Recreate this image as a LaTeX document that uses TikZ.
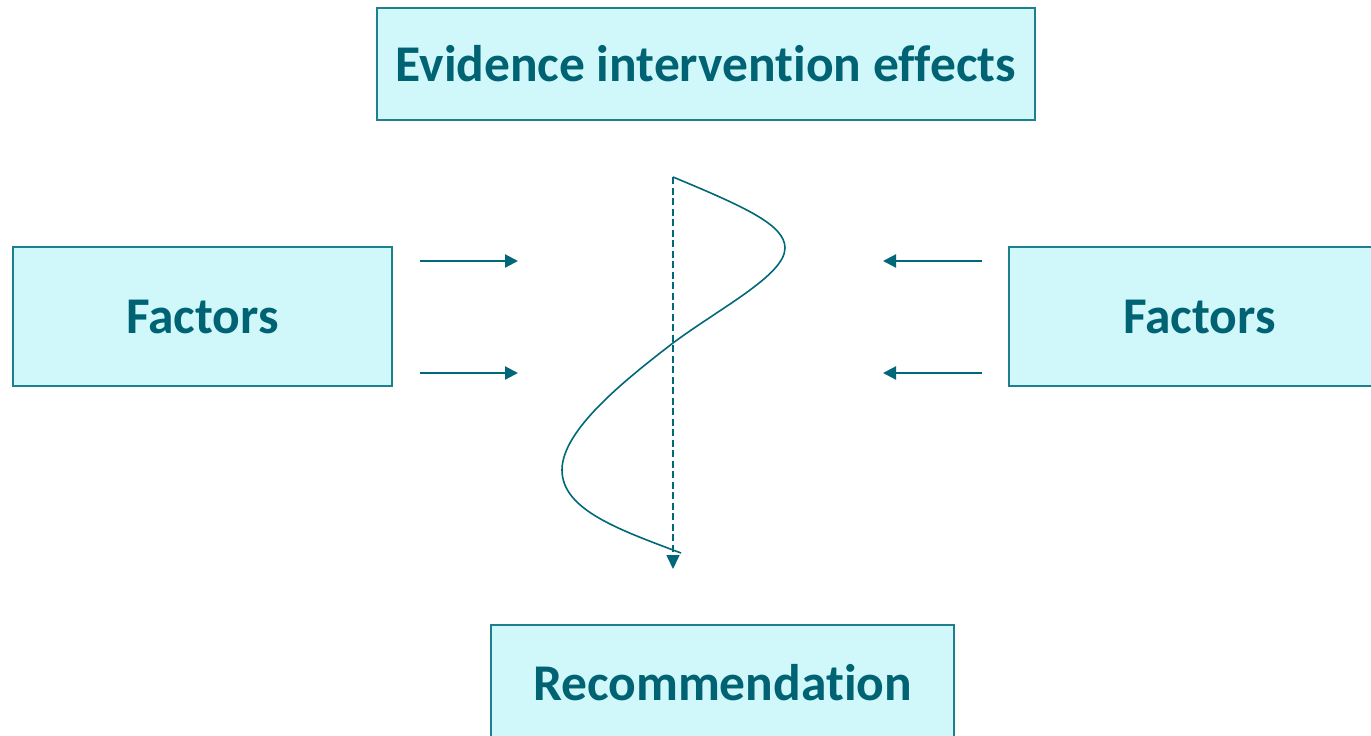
\documentclass[tikz,border=0pt]{standalone}
\usepackage{fontspec}
\setmainfont{Carlito}[Ligatures={NoCommon}]
\usetikzlibrary{arrows.meta}
\definecolor{tealtext}{RGB}{0,99,115}
\definecolor{boxfill}{RGB}{208,247,249}
\definecolor{boxline}{RGB}{30,128,140}
\definecolor{linecol}{RGB}{0,104,120}
\tikzset{
  box/.style={draw=boxline, line width=1.3pt, fill=boxfill, text=tealtext,
    font=\bfseries\fontsize{51.5}{56}\selectfont, inner sep=0pt},
  feed/.style={draw=linecol, line width=2.2pt, -{Triangle[length=13pt,width=13pt]}},
  flow/.style={draw=linecol, line width=1.6pt},
}
\begin{document}
\begin{tikzpicture}[x=1pt,y=-1pt]
\useasboundingbox (0,0) rectangle (1371,736);
\clip (0,0) rectangle (1371,736);
% boxes
\node[box, minimum width=658pt, minimum height=112pt] (evid) at (706,64) {Evidence intervention effects};
\node[box, minimum width=379pt, minimum height=139pt] (facL) at (202.5,316.5) {Factors};
\node[box, minimum width=381pt, minimum height=139pt] (facR) at (1199.5,316.5) {Factors};
\node[box, minimum width=463pt, minimum height=116pt] (rec) at (722.5,683) {Recommendation};
% arrow end points
\coordinate (la1) at (420,261); \coordinate (lb1) at (518,261);
\coordinate (la2) at (420,373); \coordinate (lb2) at (518,373);
\coordinate (ra1) at (982,261); \coordinate (rb1) at (883,261);
\coordinate (ra2) at (982,373); \coordinate (rb2) at (883,373);
\draw[feed] (la1) -- (lb1);
\draw[feed] (la2) -- (lb2);
\draw[feed] (ra1) -- (rb1);
\draw[feed] (ra2) -- (rb2);
% dashed axis
\coordinate (top) at (673,177);
\coordinate (bot) at (673,569);
\draw[draw=linecol, line width=1.6pt, dash pattern=on 7pt off 3.5pt,
  -{Triangle[length=14pt,width=13pt]}] (top) -- (bot);
% winding path
\coordinate (w1) at (785,248);
\coordinate (w2) at (673,343);
\coordinate (w3) at (562,470);
\coordinate (w4) at (681,553);
\draw[flow] (top) .. controls (745,207) and (785,225) .. (w1)
  .. controls (785,275) and (720,308) .. (w2)
  .. controls (625,380) and (562,430) .. (w3)
  .. controls (562,510) and (620,530) .. (w4);
\end{tikzpicture}
\end{document}
